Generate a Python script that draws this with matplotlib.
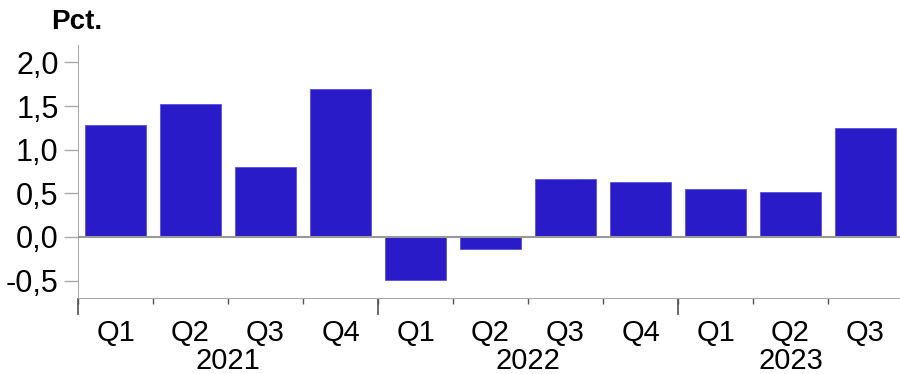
import matplotlib.pyplot as plt
import numpy as np
from matplotlib.ticker import FixedLocator

plt.rcParams['font.family'] = ['Liberation Sans', 'DejaVu Sans']

quarters = ["Q1", "Q2", "Q3", "Q4", "Q1", "Q2", "Q3", "Q4", "Q1", "Q2", "Q3"]
years = ["2021", "2022", "2023"]
year_counts = [4, 4, 3]
values = [1.28, 1.52, 0.80, 1.69, -0.49, -0.14, 0.66, 0.63, 0.55, 0.51, 1.25]

bar_color = "#2A1BC8"
grey = "#AAAAAA"

fig = plt.figure(figsize=(9, 3.74), dpi=100)
ax = fig.add_axes([78 / 900, 76 / 374, 825 / 900, 253 / 374])

x = np.arange(len(values))
ax.bar(x, values, width=0.81, color=bar_color, edgecolor="#5A4FE0", linewidth=0.6, zorder=2)
ax.axhline(0, color="#999999", linewidth=1.5, zorder=3)

ax.set_xlim(-0.5, len(values) - 0.5)
ax.set_ylim(-0.7, 2.2)

# y axis
yt = np.arange(-0.5, 2.01, 0.5)
ax.set_yticks(yt)
ax.set_yticklabels([f"{v:.1f}".replace(".", ",") for v in yt])
ax.tick_params(axis="y", length=10, width=1, color=grey, labelsize=22, pad=4)

# x axis: quarter labels at bar centres, small ticks at boundaries
ax.set_xticks(x)
ax.set_xticklabels(quarters)
ax.tick_params(axis="x", which="major", length=0, labelsize=21, pad=15)
ax.xaxis.set_minor_locator(FixedLocator(np.arange(-0.5, len(values), 1.0)))
ax.tick_params(axis="x", which="minor", length=4, width=1, color="#555555")

# longer ticks at year boundaries
bounds = np.concatenate([[0], np.cumsum(year_counts)]) - 0.5
sec = ax.secondary_xaxis("bottom")
sec.set_xticks(bounds[:-1])
sec.set_xticklabels([])
sec.tick_params(length=12, width=1.2, color="#555555")
sec.spines["bottom"].set_visible(False)

# year labels
centres = (bounds[:-1] + bounds[1:]) / 2
for c, yr in zip(centres, years):
    ax.text(c, -0.25, yr, transform=ax.get_xaxis_transform(), ha="center", va="center", fontsize=21)

for side in ["top", "right"]:
    ax.spines[side].set_visible(False)
ax.spines["left"].set_color(grey)
ax.spines["bottom"].set_color(grey)

fig.text(51 / 900, 1 - 22 / 374, "Pct.", fontsize=20, fontweight="bold", ha="left", va="center")

fig.savefig("out.png", dpi=100)
